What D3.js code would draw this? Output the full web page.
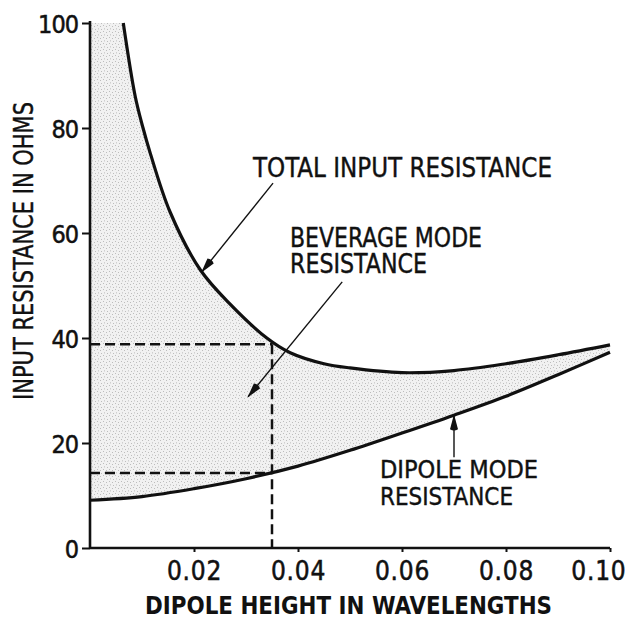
<!DOCTYPE html>
<html>
<head>
<meta charset="utf-8">
<script src="https://cdn.jsdelivr.net/npm/d3@7"></script>
<style>
  body { margin: 0; background: #fff; }
  svg { display: block; }
  text { font-family: "DejaVu Sans Condensed", "Liberation Sans Narrow", sans-serif; fill: #111; }
</style>
</head>
<body>
<svg id="chart" width="629" height="619"></svg>
<script>
// data
var totalX = [0.0064, 0.0087, 0.0102, 0.0115, 0.0154, 0.0212, 0.0269, 0.034, 0.0385, 0.045, 0.05, 0.06, 0.07, 0.08, 0.09, 0.1];
var totalY = [100, 86, 80, 75.5, 64, 53, 46.5, 40, 37.2, 35.1, 34.3, 33.4, 33.8, 35.1, 36.8, 38.7];
var dipoleX = [0, 0.01, 0.02, 0.03, 0.04, 0.05, 0.06, 0.07, 0.08, 0.09, 0.1];
var dipoleY = [9.1, 9.8, 11.3, 13.2, 15.6, 18.6, 21.9, 25.3, 28.9, 33, 37.3];
var xTicks = [0.02, 0.04, 0.06, 0.08, 0.10];
var yTicks = [0, 20, 40, 60, 80, 100];
var refX = 0.035;      // dashed guide height
var refTotal = 38.8;
var refDipole = 14.3;

var plotL = 90, plotR = 610, plotT = 23, plotB = 548;

var svg = d3.select('#chart');
var x = d3.scaleLinear().domain([0, 0.1]).range([plotL, plotR]);
var y = d3.scaleLinear().domain([0, 100]).range([plotB, plotT]);

var total = totalX.map(function(d, i){ return [d, totalY[i]]; });
var dipole = dipoleX.map(function(d, i){ return [d, dipoleY[i]]; });

// stipple pattern
var defs = svg.append('defs');
var pat = defs.append('pattern')
  .attr('id', 'stipple').attr('patternUnits', 'userSpaceOnUse')
  .attr('width', 6).attr('height', 6);
pat.append('rect').attr('width', 6).attr('height', 6).attr('fill', '#f1f1f1');
[[1, 1], [4, 2], [2, 4.5], [5, 5]].forEach(function(p){
  pat.append('rect').attr('x', p[0]).attr('y', p[1]).attr('width', 0.8).attr('height', 0.8).attr('fill', '#a0a0a0');
});

defs.append('marker')
  .attr('id', 'head').attr('markerUnits', 'userSpaceOnUse')
  .attr('viewBox', '-16 -5 18 10').attr('refX', 0).attr('refY', 0)
  .attr('markerWidth', 18).attr('markerHeight', 10).attr('orient', 'auto')
  .append('path').attr('d', 'M1,0 L-14,-4 Q-16.5,0 -14,4 Z').attr('fill', '#111');

var line = d3.line()
  .x(function(d){ return x(d[0]); })
  .y(function(d){ return y(d[1]); })
  .curve(d3.curveCatmullRom.alpha(0.5));

// shaded region under the total curve, capped at the plot top
var totalPath = line(total);
var shade = 'M' + x(0) + ',' + y(100) + 'L' + x(totalX[0]) + ',' + y(100) + 'L' + totalPath.slice(1) +
  'L' + x(0.1) + ',' + y(0) + 'L' + x(0) + ',' + y(0) + 'Z';
svg.append('path').attr('d', shade).attr('fill', 'url(#stipple)');

// white below the dipole curve
var under = d3.area()
  .x(function(d){ return x(d[0]); })
  .y0(y(0))
  .y1(function(d){ return y(d[1]); })
  .curve(d3.curveCatmullRom.alpha(0.5));
svg.append('path').attr('d', under(dipole)).attr('fill', '#fff');

// dashed guides
var dash = svg.append('g').attr('stroke', '#111').attr('stroke-width', 2.5).attr('stroke-dasharray', '10,5').attr('fill', 'none');
dash.append('line').attr('x1', x(0)).attr('x2', x(refX)).attr('y1', y(refTotal)).attr('y2', y(refTotal));
dash.append('line').attr('x1', x(0)).attr('x2', x(refX)).attr('y1', y(refDipole)).attr('y2', y(refDipole));
dash.append('line').attr('x1', x(refX)).attr('x2', x(refX)).attr('y1', y(refTotal)).attr('y2', y(0));

// curves
svg.append('path').attr('d', totalPath).attr('fill', 'none').attr('stroke', '#111').attr('stroke-width', 3.2);
svg.append('path').attr('d', line(dipole)).attr('fill', 'none').attr('stroke', '#111').attr('stroke-width', 3.2);

// axes
var yAxis = d3.axisLeft(y).tickValues(yTicks).tickSize(8).tickPadding(4).tickFormat(d3.format('d'));
var gy = svg.append('g').attr('transform', 'translate(' + plotL + ',0)').call(yAxis);
var xAxis = d3.axisBottom(x).tickValues(xTicks).tickSize(4).tickPadding(9).tickFormat(d3.format('.2f'));
var gx = svg.append('g').attr('transform', 'translate(0,' + plotB + ')').call(xAxis);
[gx, gy].forEach(function(g){
  g.select('.domain').attr('stroke', '#111').attr('stroke-width', 2.6);
  g.selectAll('.tick line').attr('stroke', '#111').attr('stroke-width', 2);
  g.selectAll('text').attr('fill', '#111').attr('stroke', '#111').attr('stroke-width', 0.5)
    .style('font-family', '"DejaVu Sans Condensed", sans-serif');
});
gy.select('.domain').attr('d', 'M0,' + (plotT - 2) + 'V' + plotB);
gx.select('.domain').attr('d', 'M' + plotL + ',0H' + plotR);
gy.selectAll('text').attr('font-size', 25).attr('letter-spacing', -1).attr('dy', '0.36em');
gx.selectAll('text').attr('font-size', 26).attr('letter-spacing', 0.8).attr('dy', '0.72em');
gx.selectAll('.tick').filter(function(d){ return d === 0.1; }).select('text')
  .attr('text-anchor', 'end').attr('x', 626 - x(0.1));

// annotation arrows (data coordinates)
var arrows = [
  [[0.0352, 69.5], [0.0215, 52.6]],
  [[0.0485, 50.7], [0.0304, 28.8]],
  [[0.07, 17.3], [0.07, 25.3]]
];
svg.selectAll('.arrow').data(arrows).enter().append('line')
  .attr('class', 'arrow')
  .attr('x1', function(d){ return x(d[0][0]); }).attr('y1', function(d){ return y(d[0][1]); })
  .attr('x2', function(d){ return x(d[1][0]); }).attr('y2', function(d){ return y(d[1][1]); })
  .attr('stroke', '#111').attr('stroke-width', 1.4).attr('marker-end', 'url(#head)');

// labels: text, left x, baseline y, width
function label(t, x0, yb, w, fs, rot) {
  var el = svg.append('text').text(t).attr('font-size', fs)
    .attr('textLength', w).attr('lengthAdjust', 'spacingAndGlyphs')
    .attr('stroke', '#111').attr('stroke-width', 0.4);
  if (rot) {
    el.attr('text-anchor', 'middle').attr('transform', 'translate(' + x0 + ',' + yb + ') rotate(-90)');
  } else {
    el.attr('x', x0).attr('y', yb);
  }
  return el;
}
label('TOTAL INPUT RESISTANCE', 253, 177, 299, 27);
label('BEVERAGE MODE', 290, 247, 192, 26);
label('RESISTANCE', 290, 273, 137, 26);
label('DIPOLE MODE', 380, 478, 158, 25);
label('RESISTANCE', 380, 505, 133, 25);
label('DIPOLE HEIGHT IN WAVELENGTHS', 145, 614, 407, 24.5).attr('font-weight', 'bold').attr('stroke-width', 0);
label('INPUT RESISTANCE IN OHMS', 33, 251, 298, 27, true);
</script>
</body>
</html>
